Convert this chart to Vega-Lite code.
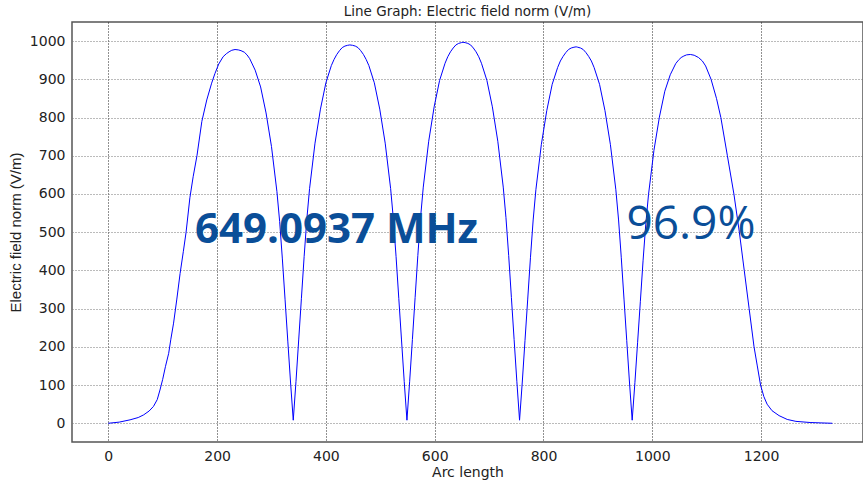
{
  "$schema": "https://vega.github.io/schema/vega-lite/v6.json",
  "autosize": "none",
  "width": 791,
  "height": 420,
  "padding": {"left": 72, "top": 22, "right": 0, "bottom": 39},
  "background": "white",
  "title": {"text": "Line Graph: Electric field norm (V/m)", "font": "DejaVu Sans", "fontSize": 13.5, "fontWeight": "normal", "color": "#222", "offset": 4, "anchor": "middle"},
  "config": {
    "view": {"stroke": "#555", "strokeWidth": 1.5},
    "axis": {"labelFont": "DejaVu Sans", "labelFontSize": 14, "labelColor": "#222", "titleFont": "DejaVu Sans", "titleFontSize": 14, "titleFontWeight": "normal", "titleColor": "#222", "domain": false, "tickColor": "#333", "gridDash": [1, 2], "gridWidth": 1}
  },
  "datasets": {
    "field": [
      {"x": 0, "v": 0}, {"x": 20, "v": 3}, {"x": 40, "v": 9}, {"x": 55, "v": 15}, {"x": 65, "v": 22}, {"x": 75, "v": 32}, {"x": 83, "v": 44}, {"x": 90, "v": 62}, {"x": 95, "v": 87}, {"x": 100, "v": 115}, {"x": 105, "v": 148}, {"x": 111, "v": 183}, {"x": 115, "v": 220}, {"x": 120, "v": 262}, {"x": 126, "v": 325}, {"x": 132, "v": 392}, {"x": 138, "v": 450}, {"x": 143, "v": 500}, {"x": 150, "v": 590}, {"x": 156, "v": 645}, {"x": 163, "v": 700}, {"x": 172, "v": 790}, {"x": 181, "v": 846}, {"x": 190, "v": 890}, {"x": 196, "v": 915}, {"x": 203, "v": 940}, {"x": 211, "v": 959}, {"x": 217, "v": 967}, {"x": 222, "v": 972}, {"x": 227, "v": 976}, {"x": 233, "v": 978}, {"x": 239, "v": 977}, {"x": 244, "v": 975}, {"x": 250, "v": 971}, {"x": 255, "v": 964}, {"x": 260, "v": 954}, {"x": 270, "v": 924}, {"x": 280, "v": 880}, {"x": 290, "v": 812}, {"x": 300, "v": 724}, {"x": 310, "v": 606}, {"x": 315, "v": 528}, {"x": 320, "v": 430}, {"x": 325, "v": 323}, {"x": 330, "v": 215}, {"x": 335, "v": 108}, {"x": 340, "v": 8},
      {"x": 345, "v": 109}, {"x": 350, "v": 218}, {"x": 355, "v": 327}, {"x": 360, "v": 436}, {"x": 365, "v": 535}, {"x": 370, "v": 614}, {"x": 380, "v": 733}, {"x": 390, "v": 822}, {"x": 400, "v": 891}, {"x": 410, "v": 936}, {"x": 415, "v": 952}, {"x": 420, "v": 965}, {"x": 425, "v": 975}, {"x": 430, "v": 983}, {"x": 435, "v": 987}, {"x": 440, "v": 989}, {"x": 444, "v": 990}, {"x": 449, "v": 989}, {"x": 454, "v": 987}, {"x": 459, "v": 983}, {"x": 464, "v": 975}, {"x": 469, "v": 965}, {"x": 474, "v": 952}, {"x": 479, "v": 936}, {"x": 489, "v": 891}, {"x": 499, "v": 822}, {"x": 509, "v": 733}, {"x": 519, "v": 614}, {"x": 524, "v": 535}, {"x": 529, "v": 436}, {"x": 534, "v": 327}, {"x": 539, "v": 218}, {"x": 544, "v": 109}, {"x": 549, "v": 8},
      {"x": 554, "v": 110}, {"x": 559, "v": 219}, {"x": 564, "v": 329}, {"x": 569, "v": 439}, {"x": 574, "v": 538}, {"x": 579, "v": 618}, {"x": 589, "v": 738}, {"x": 599, "v": 828}, {"x": 609, "v": 897}, {"x": 619, "v": 942}, {"x": 624, "v": 959}, {"x": 629, "v": 972}, {"x": 634, "v": 982}, {"x": 639, "v": 990}, {"x": 644, "v": 994}, {"x": 649, "v": 996}, {"x": 652, "v": 997}, {"x": 656, "v": 996}, {"x": 661, "v": 994}, {"x": 666, "v": 990}, {"x": 671, "v": 982}, {"x": 676, "v": 972}, {"x": 681, "v": 959}, {"x": 686, "v": 942}, {"x": 696, "v": 897}, {"x": 706, "v": 828}, {"x": 716, "v": 738}, {"x": 726, "v": 618}, {"x": 731, "v": 538}, {"x": 736, "v": 439}, {"x": 741, "v": 329}, {"x": 746, "v": 219}, {"x": 751, "v": 110}, {"x": 756, "v": 8},
      {"x": 761, "v": 108}, {"x": 766, "v": 217}, {"x": 771, "v": 325}, {"x": 776, "v": 433}, {"x": 781, "v": 532}, {"x": 786, "v": 611}, {"x": 796, "v": 729}, {"x": 806, "v": 818}, {"x": 816, "v": 887}, {"x": 826, "v": 931}, {"x": 831, "v": 948}, {"x": 836, "v": 960}, {"x": 841, "v": 970}, {"x": 846, "v": 978}, {"x": 851, "v": 982}, {"x": 856, "v": 984}, {"x": 860, "v": 985}, {"x": 863, "v": 984}, {"x": 868, "v": 982}, {"x": 873, "v": 978}, {"x": 878, "v": 970}, {"x": 883, "v": 960}, {"x": 888, "v": 948}, {"x": 893, "v": 931}, {"x": 903, "v": 887}, {"x": 913, "v": 818}, {"x": 923, "v": 729}, {"x": 933, "v": 611}, {"x": 938, "v": 532}, {"x": 943, "v": 433}, {"x": 948, "v": 325}, {"x": 953, "v": 217}, {"x": 958, "v": 108}, {"x": 963, "v": 8},
      {"x": 968, "v": 106}, {"x": 973, "v": 212}, {"x": 978, "v": 318}, {"x": 983, "v": 425}, {"x": 988, "v": 521}, {"x": 993, "v": 598}, {"x": 1003, "v": 714}, {"x": 1013, "v": 801}, {"x": 1023, "v": 869}, {"x": 1033, "v": 912}, {"x": 1043, "v": 941}, {"x": 1048, "v": 950}, {"x": 1053, "v": 957}, {"x": 1058, "v": 961}, {"x": 1063, "v": 964}, {"x": 1070, "v": 965}, {"x": 1077, "v": 963}, {"x": 1085, "v": 957}, {"x": 1092, "v": 948}, {"x": 1098, "v": 935}, {"x": 1108, "v": 900}, {"x": 1118, "v": 850}, {"x": 1126, "v": 800}, {"x": 1138, "v": 700}, {"x": 1150, "v": 600}, {"x": 1160, "v": 500}, {"x": 1169, "v": 400}, {"x": 1178, "v": 300}, {"x": 1187, "v": 200}, {"x": 1193, "v": 150}, {"x": 1199, "v": 100}, {"x": 1205, "v": 70}, {"x": 1211, "v": 50}, {"x": 1220, "v": 33}, {"x": 1233, "v": 20}, {"x": 1248, "v": 10}, {"x": 1264, "v": 5}, {"x": 1290, "v": 2}, {"x": 1310, "v": 1}, {"x": 1331, "v": 0}
    ]
  },
  "layer": [
    {
      "data": {"name": "field"},
      "mark": {"type": "line", "color": "#0000ff", "strokeWidth": 1, "clip": true},
      "encoding": {
        "x": {"field": "x", "type": "quantitative", "scale": {"domain": [-66.7, 1387.3], "nice": false, "zero": false}, "axis": {"title": "Arc length", "format": "d", "values": [0, 200, 400, 600, 800, 1000, 1200], "gridColor": "#222", "tickSize": 0, "labelPadding": 7, "titlePadding": 2}},
        "y": {"field": "v", "type": "quantitative", "scale": {"domain": [-49, 1050], "nice": false, "zero": false}, "axis": {"title": "Electric field norm (V/m)", "titleFont": "Liberation Sans", "titleFontSize": 15, "format": "d", "values": [0, 100, 200, 300, 400, 500, 600, 700, 800, 900, 1000], "gridColor": "#777", "tickSize": 0, "labelPadding": 7, "titlePadding": 6}}
      }
    },
    {
      "data": {"values": [{"x": 419.5, "v": 471.6, "label": "649.0937 MHz"}]},
      "mark": {"type": "text", "font": "Open Sans", "fontSize": 42, "fontWeight": "bold", "color": "#0a4e98", "align": "center", "baseline": "alphabetic"},
      "encoding": {
        "x": {"field": "x", "type": "quantitative"},
        "y": {"field": "v", "type": "quantitative"},
        "text": {"field": "label"}
      }
    },
    {
      "data": {"values": [{"x": 1071, "v": 482, "label": "96.9%"}]},
      "mark": {"type": "text", "font": "Open Sans", "fontSize": 46, "fontWeight": "normal", "color": "#0a4e98", "align": "center", "baseline": "alphabetic"},
      "encoding": {
        "x": {"field": "x", "type": "quantitative"},
        "y": {"field": "v", "type": "quantitative"},
        "text": {"field": "label"}
      }
    }
  ]
}
